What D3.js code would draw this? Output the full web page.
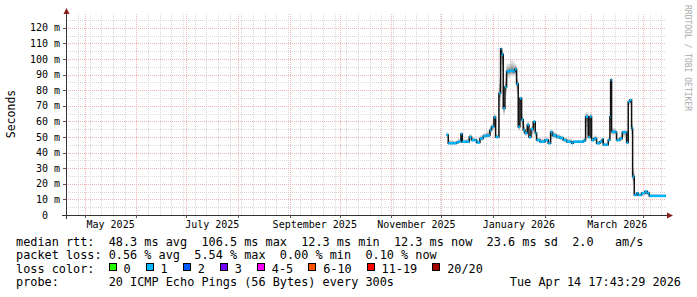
<!DOCTYPE html>
<html lang="en">
<head>
<meta charset="UTF-8">
<title>Smokeping RTT</title>
<script src="https://d3js.org/d3.v7.min.js"></script>
<style>
  body { margin: 0; background: #fff; }
  svg { display: block; }
  text { font-family: "DejaVu Sans Mono", monospace; fill: #000; white-space: pre; }
</style>
</head>
<body>
<div id="chart"></div>
<script>
// median rtt samples (ms) with smoke extent
const dates = [
  "2025-12-04 02","2025-12-05 02","2025-12-08 02","2025-12-10 02","2025-12-11 00","2025-12-12 17",
  "2025-12-13 12","2025-12-16 02","2025-12-17 17","2025-12-19 02","2025-12-21 02","2025-12-22 02",
  "2025-12-24 02","2025-12-26 02","2025-12-28 02","2025-12-30 02","2025-12-31 02","2026-01-01 12",
  "2026-01-02 12","2026-01-03 17","2026-01-04 12","2026-01-05 12","2026-01-06 02","2026-01-07 02",
  "2026-01-08 02","2026-01-09 02","2026-01-11 02","2026-01-13 02","2026-01-14 02","2026-01-15 02",
  "2026-01-16 02","2026-01-17 02","2026-01-18 02","2026-01-19 02","2026-01-20 02","2026-01-21 12",
  "2026-01-22 12","2026-01-23 17","2026-01-25 02","2026-01-26 07","2026-01-27 02","2026-01-29 02",
  "2026-02-01 02","2026-02-03 02","2026-02-04 12","2026-02-05 17","2026-02-08 02","2026-02-10 02",
  "2026-02-12 02","2026-02-14 02","2026-02-17 02","2026-02-18 02","2026-02-21 02","2026-02-24 02",
  "2026-02-25 02","2026-02-25 12","2026-02-27 02","2026-02-28 02","2026-03-01 02","2026-03-02 12",
  "2026-03-04 02","2026-03-06 02","2026-03-07 12","2026-03-08 02","2026-03-10 02","2026-03-11 02",
  "2026-03-12 02","2026-03-12 12","2026-03-13 02","2026-03-15 12","2026-03-16 02","2026-03-18 02",
  "2026-03-19 12","2026-03-21 02","2026-03-22 02","2026-03-23 02","2026-03-24 02","2026-03-25 02",
  "2026-03-25 17","2026-03-26 17","2026-03-28 02","2026-03-29 02","2026-03-31 02","2026-04-02 02",
  "2026-04-03 12","2026-04-04 17","2026-04-14 17"
];
const median = [
  51.3,46,46,46.5,47,52, 47,47,50,48,48,46.5, 49,50.6,51,54.5,56.6,62.6,
  50,50,78,106.5,103,68.4, 82,92,92.5,92,93.4,84, 56.6,74.8,61,54.5,52.5,57.7,
  50,55,59.8,52.5,48,47, 48,46,53,51,50,49.4, 48,47,46,47,47,47.5,
  48,63,50,63,48,49, 46,47,48.6,45,45,48, 63,86.5,53.4,53,48,49,
  53,53,46.5,72.6,73.7,55.6, 24.6,12.8,13.9,12.8,14,15, 14,12.2,12.2
];
const smokeLo = [
  50,45,45,45.5,46,47, 46,46,48,47,47,46, 47.5,49,49.5,52,54,58,
  49,49,70,96,92,64, 76,88,89,89,89,78, 54,62,57,52,50.5,53,
  48.5,50,53,50,47,46, 46.5,45,49,49,48.5,48, 47,46,45.5,46,46,46.5,
  47,52,48.5,52,47,47.5, 45,46,47,44.5,44.5,47, 55,70,51,51,47,47.5,
  50,50,45.5,70,71,50, 20,12.3,12.5,12.3,12.5,13, 12.5,12,12
];
const smokeHi = [
  53,48,47.5,48,49,53, 48.5,49,52,50,49.5,48, 51,52.5,54,57,59,65,
  52,52,88,107,105,75, 88,97,99,98,97,88, 62,76,64,58,55,60,
  53,57,61,54,50,49, 50,48,55,53,52,51, 50,49,47.5,48,48,49,
  50,66,52,66,50,51, 47.5,48.5,50,46.5,46.5,50, 66,88,56,55,50,51,
  54.5,54.5,48,74,74.5,60, 30,14,15,14,15,16, 15.5,13.5,13.5
];

const yTicks = [0,10,20,30,40,50,60,70,80,90,100,110,120];
const labelMonths = ["2025-05","2025-07","2025-09","2025-11","2026-01","2026-03"];
const lossLabels = ["0","1","2","3","4-5","6-10","11-19","20/20"];
const lossColors = ["#26ff00","#00b8ff","#0059ff","#7400ff","#ff00ff","#ff5500","#ff0000","#a10000"];

const legendRows = [
  "median rtt:  48.3 ms avg  106.5 ms max  12.3 ms min  12.3 ms now  23.6 ms sd  2.0   am/s",
  "packet loss: 0.56 % avg  5.54 % max  0.00 % min  0.10 % now"
];
const probeText = "probe:       20 ICMP Echo Pings (56 Bytes) every 300s";
const stampText = "Tue Apr 14 17:43:29 2026";

const W = 697, H = 297;
const plotLeft = 66, plotRight = 666, plotBottom = 215, plotTop = 13;

const parse = d3.utcParse("%Y-%m-%d %H");
const end = d3.utcParse("%Y-%m-%d %H:%M:%S")("2026-04-14 17:43:29");
const start = d3.utcDay.offset(end, -360);

const x = d3.scaleUtc().domain([start, end]).range([plotLeft, plotRight]);
const y = d3.scaleLinear().domain([0, (plotBottom - plotTop) / 1.56]).range([plotBottom, plotTop]);

const svg = d3.select("#chart").append("svg")
  .attr("width", W).attr("height", H);

svg.append("rect").attr("width", W).attr("height", H).attr("fill", "#fff");

// grid
const grid = svg.append("g").attr("shape-rendering", "crispEdges")
  .attr("stroke-dasharray", "1,1").attr("stroke-width", 1);

const weeks = d3.utcSunday.range(start, end);
grid.selectAll(".vmin").data(weeks).enter().append("line")
  .attr("x1", d => Math.round(x(d)) + 0.5).attr("x2", d => Math.round(x(d)) + 0.5)
  .attr("y1", plotBottom).attr("y2", plotTop)
  .attr("stroke", "#d8d8d8");

const hMinor = d3.range(5, y.domain()[1], 5).filter(v => v % 10 !== 0);
grid.selectAll(".hmin").data(hMinor).enter().append("line")
  .attr("x1", plotLeft).attr("x2", plotRight)
  .attr("y1", d => Math.round(y(d)) + 0.5).attr("y2", d => Math.round(y(d)) + 0.5)
  .attr("stroke", "#d8d8d8");

const months = d3.utcMonth.range(start, end);
grid.selectAll(".vmaj").data(months).enter().append("line")
  .attr("x1", d => Math.round(x(d)) + 0.5).attr("x2", d => Math.round(x(d)) + 0.5)
  .attr("y1", plotBottom).attr("y2", plotTop)
  .attr("stroke", "#f0b2b2");

grid.selectAll(".hmaj").data(yTicks.slice(1)).enter().append("line")
  .attr("x1", plotLeft).attr("x2", plotRight)
  .attr("y1", d => Math.round(y(d)) + 0.5).attr("y2", d => Math.round(y(d)) + 0.5)
  .attr("stroke", "#f0b2b2");

// data
const pts = dates.map((d, i) => ({ t: parse(d), m: median[i], lo: smokeLo[i], hi: smokeHi[i] }));

const smoke = svg.append("g");
const layers = [
  { k: 1.0, c: "#dcdcdc" },
  { k: 0.6, c: "#b4b4b4" },
  { k: 0.3, c: "#8a8a8a" }
];
layers.forEach(l => {
  smoke.append("path")
    .datum(pts)
    .attr("fill", l.c)
    .attr("d", d3.area()
      .curve(d3.curveStepAfter)
      .x(d => x(d.t))
      .y0(d => y(d.m - (d.m - d.lo) * l.k))
      .y1(d => y(d.m + (d.hi - d.m) * l.k)));
});

svg.append("path")
  .datum(pts)
  .attr("fill", "none")
  .attr("stroke", "#111")
  .attr("stroke-width", 1.5)
  .attr("d", d3.line().curve(d3.curveStepAfter).x(d => x(d.t)).y(d => y(d.m)));

svg.append("g").selectAll("line")
  .data(pts.slice(0, -1))
  .enter().append("line")
  .attr("x1", (d, i) => x(d.t))
  .attr("x2", (d, i) => x(pts[i + 1].t))
  .attr("y1", d => y(d.m)).attr("y2", d => y(d.m))
  .attr("stroke", lossColors[1])
  .attr("stroke-width", 2.5);

// axes
const axis = svg.append("g").attr("shape-rendering", "crispEdges");
axis.append("line").attr("x1", 62).attr("x2", 670).attr("y1", plotBottom + 0.5).attr("y2", plotBottom + 0.5)
  .attr("stroke", "#333");
axis.append("line").attr("x1", plotLeft + 0.5).attr("x2", plotLeft + 0.5).attr("y1", plotBottom + 4).attr("y2", 11)
  .attr("stroke", "#333");
axis.selectAll(".yt").data(yTicks.slice(1)).enter().append("line")
  .attr("x1", plotLeft - 3).attr("x2", plotLeft)
  .attr("y1", d => Math.round(y(d)) + 0.5).attr("y2", d => Math.round(y(d)) + 0.5)
  .attr("stroke", "#555");
axis.selectAll(".xt").data(months).enter().append("line")
  .attr("x1", d => Math.round(x(d)) + 0.5).attr("x2", d => Math.round(x(d)) + 0.5)
  .attr("y1", plotBottom).attr("y2", plotBottom + 3)
  .attr("stroke", "#555");

svg.append("path").attr("d", "M673,215.5 L667,212.5 L667,218.5 Z").attr("fill", "#8b1f1f");
svg.append("path").attr("d", "M66.5,8 L63.5,14 L69.5,14 Z").attr("fill", "#8b1f1f");

// y labels
svg.append("g").selectAll("text").data(yTicks).enter().append("text")
  .attr("x", d => d === 0 ? 48 : 60)
  .attr("y", d => y(d) + 3.5)
  .attr("text-anchor", "end")
  .attr("font-size", "10px")
  .text(d => d === 0 ? "0" : d + " m");

// x labels, centred in their month
const monthParse = d3.utcParse("%Y-%m");
const monthFmt = d3.utcFormat("%B %Y");
svg.append("g").selectAll("text").data(labelMonths.map(monthParse)).enter().append("text")
  .attr("x", d => (x(d) + x(d3.utcMonth.offset(d, 1))) / 2)
  .attr("y", 228)
  .attr("text-anchor", "middle")
  .attr("font-size", "10px")
  .text(d => monthFmt(d));

svg.append("text")
  .attr("transform", "translate(15,114) rotate(-90)")
  .attr("text-anchor", "middle")
  .attr("font-size", "11.5px")
  .text("Seconds");

svg.append("text")
  .attr("transform", "translate(685,5) rotate(90)")
  .attr("font-size", "8px")
  .style("fill", "#aaa")
  .text("RRDTOOL / TOBI OETIKER");

// legend
const lf = "11.85px";
const rowY = [245.5, 259.2, 272.8, 286.4];
legendRows.forEach((r, i) => {
  svg.append("text").attr("x", 16).attr("y", rowY[i]).attr("font-size", lf).text(r);
});
svg.append("text").attr("x", 16).attr("y", rowY[2]).attr("font-size", lf).text("loss color:");

const cw = 7.13;
let lx = 108.5;
lossLabels.forEach((lab, i) => {
  svg.append("rect")
    .attr("x", Math.round(lx) + 0.5).attr("y", 263.5)
    .attr("width", 7).attr("height", 7)
    .attr("fill", lossColors[i]).attr("stroke", "#000").attr("stroke-width", 1);
  svg.append("text").attr("x", lx + 15).attr("y", rowY[2]).attr("font-size", lf).text(lab);
  lx += 4.2 * cw + lab.length * cw;
});

svg.append("text").attr("x", 16).attr("y", rowY[3]).attr("font-size", lf).text(probeText);
svg.append("text").attr("x", 681).attr("y", rowY[3]).attr("text-anchor", "end")
  .attr("font-size", lf).text(stampText);
</script>
</body>
</html>
